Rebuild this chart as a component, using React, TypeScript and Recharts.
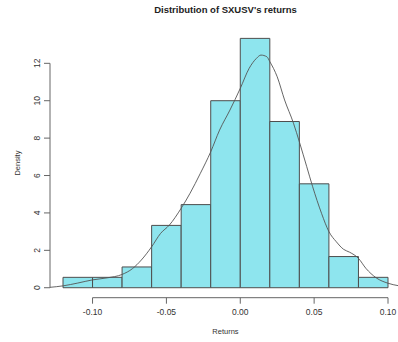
import {
  ComposedChart,
  Line,
  ReferenceArea,
  ReferenceLine,
  XAxis,
  YAxis,
} from "recharts";

// histogram bins (density scale)
const binStart = [-0.12, -0.1, -0.08, -0.06, -0.04, -0.02, 0, 0.02, 0.04, 0.06, 0.08];
const binEnd = [-0.1, -0.08, -0.06, -0.04, -0.02, 0, 0.02, 0.04, 0.06, 0.08, 0.1];
const binDensity = [0.556, 0.556, 1.111, 3.333, 4.444, 10, 13.333, 8.889, 5.556, 1.667, 0.556];

// kernel density curve
const curveX = [
  -0.129, -0.12, -0.11, -0.1, -0.09, -0.08, -0.073, -0.067, -0.06, -0.054, -0.048, -0.04,
  -0.034, -0.027, -0.02, -0.014, -0.007, 0, 0.006, 0.011, 0.014, 0.018, 0.02, 0.025, 0.03,
  0.036, 0.04, 0.045, 0.049, 0.055, 0.06, 0.065, 0.07, 0.074, 0.08, 0.085, 0.092, 0.1, 0.107,
];
const curveY = [
  0.02, 0.1, 0.25, 0.42, 0.53, 0.71, 1.02, 1.48, 2.19, 2.9, 3.35, 4.25,
  5.05, 6.12, 7.27, 8.43, 9.5, 10.66, 11.73, 12.27, 12.44, 12.35, 12.09, 11.28, 10.04,
  8.8, 7.8, 6.47, 5.4, 3.98, 3.0, 2.46, 2.05, 1.9, 1.57, 1.04, 0.53, 0.24, 0.11,
];

const xTicks = [-0.1, -0.05, 0, 0.05, 0.1];
const yTicks = [0, 2, 4, 6, 8, 10, 12];

const X_DOMAIN: [number, number] = [-0.1288, 0.1088];
const Y_DOMAIN: [number, number] = [-0.533, 13.867];

const FONT = "'Liberation Sans', Arial, sans-serif";
const AXIS = "#666";
const TEXT = "#333";

function YTick(props: any) {
  const { x, y, payload } = props;
  return (
    <text
      x={x - 4.3}
      y={y}
      transform={`rotate(-90, ${x - 4.3}, ${y})`}
      textAnchor="middle"
      fontSize={8.5}
      fill={TEXT}
      fontFamily={FONT}
    >
      {payload.value}
    </text>
  );
}

export default function App() {
  const data = curveX.map((x, i) => ({ x, density: curveY[i] }));

  return (
    <div
      style={{
        position: "absolute",
        left: 0,
        top: 0,
        width: 398,
        height: 342,
        overflow: "hidden",
        background: "#fff",
        fontFamily: FONT,
      }}
    >
      <div
        style={{
          position: "absolute",
          left: 0,
          top: 4,
          width: 451,
          textAlign: "center",
          fontSize: 9.5,
          lineHeight: "12px",
          fontWeight: "bold",
          color: "#222",
        }}
      >
        Distribution of SXUSV's returns
      </div>
      <ComposedChart
        width={401}
        height={342}
        data={data}
        margin={{ top: 28.4, right: 0, bottom: 0, left: 0 }}
      >
        <XAxis
          dataKey="x"
          type="number"
          domain={X_DOMAIN}
          allowDataOverflow
          ticks={xTicks}
          tickFormatter={(v: number) => v.toFixed(2)}
          axisLine={false}
          tickLine={{ stroke: AXIS }}
          tickSize={6}
          tickMargin={5}
          height={44.3}
          tick={{ fontSize: 8.5, fill: TEXT, fontFamily: FONT }}
          interval={0}
          label={{
            content: ({ viewBox }: any) => (
              <text
                x={viewBox.x + viewBox.width / 2}
                y={331}
                textAnchor="middle"
                dominantBaseline="central"
                fontSize={7.5}
                fill={TEXT}
                fontFamily={FONT}
              >
                Returns
              </text>
            ),
          }}
        />
        <YAxis
          type="number"
          domain={Y_DOMAIN}
          allowDataOverflow
          ticks={yTicks}
          axisLine={false}
          tickLine={{ stroke: AXIS }}
          tickSize={6}
          tickMargin={0}
          width={50}
          tick={<YTick />}
          interval={0}
          label={{
            content: ({ viewBox }: any) => {
              const cy = viewBox.y + viewBox.height / 2;
              return (
                <text
                  x={17.3}
                  y={cy}
                  transform={`rotate(-90, 17.3, ${cy})`}
                  textAnchor="middle"
                  dominantBaseline="central"
                  fontSize={7.5}
                  fill={TEXT}
                  fontFamily={FONT}
                >
                  Density
                </text>
              );
            },
          }}
        />
        {binStart.map((lo, i) => (
          <ReferenceArea
            key={i}
            x1={lo}
            x2={binEnd[i]}
            y1={0}
            y2={binDensity[i]}
            fill="#8EE5EE"
            fillOpacity={1}
            stroke="#4d4d4d"
            strokeWidth={1}
            ifOverflow="visible"
          />
        ))}
        <ReferenceLine
          segment={[
            { x: X_DOMAIN[0], y: 0 },
            { x: X_DOMAIN[0], y: 12 },
          ]}
          stroke={AXIS}
          ifOverflow="visible"
        />
        <ReferenceLine
          segment={[
            { x: -0.1, y: Y_DOMAIN[0] },
            { x: 0.1, y: Y_DOMAIN[0] },
          ]}
          stroke={AXIS}
          ifOverflow="visible"
        />
        <Line
          type="monotone"
          dataKey="density"
          stroke="#555"
          strokeWidth={0.9}
          dot={false}
          activeDot={false}
          isAnimationActive={false}
        />
      </ComposedChart>
    </div>
  );
}
